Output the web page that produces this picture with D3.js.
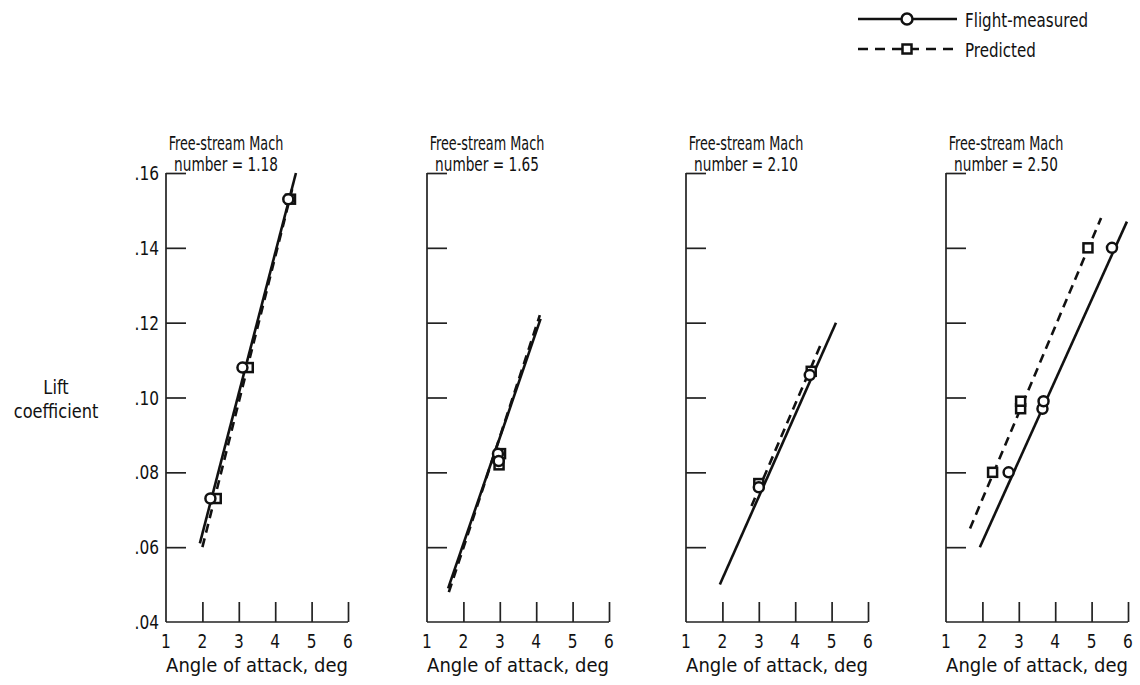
<!DOCTYPE html>
<html>
<head>
<meta charset="utf-8">
<script src="https://cdn.jsdelivr.net/npm/d3@7"></script>
<style>
  body { margin: 0; background: #fff; }
  svg text { font-family: "Liberation Sans Narrow", "DejaVu Sans Condensed", sans-serif; fill: #111; }
</style>
</head>
<body>
<svg id="chart" width="1140" height="685"></svg>
<script>
// panel titles (Mach numbers)
const machNumbers = ["1.18", "1.65", "2.10", "2.50"];
const xTicks = [1, 2, 3, 4, 5, 6];
const yTicks = [0.04, 0.06, 0.08, 0.10, 0.12, 0.14, 0.16];

// fairing lines: [alphaStart, clStart, alphaEnd, clEnd]
const measuredLines = [
  [1.93, 0.061, 4.57, 0.160],
  [1.58, 0.049, 4.12, 0.121],
  [1.93, 0.050, 5.12, 0.120],
  [1.93, 0.060, 5.97, 0.147]
];
const predictedLines = [
  [2.00, 0.060, 4.50, 0.157],
  [1.60, 0.048, 4.10, 0.122],
  [2.80, 0.071, 4.74, 0.115],
  [1.66, 0.065, 5.26, 0.148]
];

// data points [alpha, CL]
const measuredPoints = [
  [[2.22, 0.073], [3.10, 0.108], [4.36, 0.153]],
  [[2.95, 0.085], [2.97, 0.083]],
  [[3.00, 0.076], [4.40, 0.106]],
  [[2.72, 0.080], [3.65, 0.097], [3.68, 0.099], [5.56, 0.140]]
];
const predictedPoints = [
  [[2.38, 0.073], [3.26, 0.108], [4.42, 0.153]],
  [[3.02, 0.085], [2.98, 0.082]],
  [[3.00, 0.077], [4.44, 0.107]],
  [[2.28, 0.080], [3.05, 0.097], [3.05, 0.099], [4.90, 0.140]]
];

const svg = d3.select("#chart");
const panelX = [166, 427, 686, 946];
const panelW = 182;
const yTop = 173, yBottom = 622;

const y = d3.scaleLinear().domain([0.04, 0.16]).range([yBottom, yTop]);
const fmtY = v => d3.format(".2f")(v).replace(/^0/, "");

// text squeezed or stretched horizontally to mimic the lettering
function label(parent, x, yy, str, size, sx, anchor) {
  return parent.append("text")
    .attr("transform", `translate(${x},${yy}) scale(${sx},1)`)
    .attr("text-anchor", anchor || "middle")
    .attr("font-size", size).text(str);
}

machNumbers.forEach((mach, i) => {
  const x = d3.scaleLinear().domain([1, 6]).range([panelX[i], panelX[i] + panelW]);
  const g = svg.append("g");

  // axes drawn with inward ticks
  const yAxis = d3.axisRight(y).tickValues(yTicks.slice(1)).tickSize(20).tickFormat("");
  g.append("g").attr("transform", `translate(${panelX[i]},0)`).call(yAxis)
    .call(a => a.select(".domain").attr("d", `M0,${yTop}V${yBottom}`));
  const xAxis = d3.axisTop(x).tickValues(xTicks.slice(1)).tickSize(20).tickFormat("");
  g.append("g").attr("transform", `translate(0,${yBottom})`).call(xAxis)
    .call(a => a.select(".domain").attr("d", `M${panelX[i]},0H${panelX[i] + panelW}`));
  g.selectAll(".tick line, .domain").attr("stroke", "#222").attr("stroke-width", 1.7);

  // x tick labels
  xTicks.forEach(t => label(g, x(t), yBottom + 26, t, 19, 0.9));
  label(g, x(3.5), yBottom + 50, "Angle of attack, deg", 20, 1.0);

  // title
  const tx = panelX[i] + 60;
  label(g, tx, 150, "Free-stream Mach", 19, 0.75);
  label(g, tx, 171, "number = " + mach, 19, 0.8);

  // lines
  const m = measuredLines[i], p = predictedLines[i];
  g.append("line").attr("x1", x(m[0])).attr("y1", y(m[1])).attr("x2", x(m[2])).attr("y2", y(m[3]))
    .attr("stroke", "#111").attr("stroke-width", 2.6);
  g.append("line").attr("x1", x(p[0])).attr("y1", y(p[1])).attr("x2", x(p[2])).attr("y2", y(p[3]))
    .attr("stroke", "#111").attr("stroke-width", 2.6).attr("stroke-dasharray", "9,6");

  // markers
  g.selectAll(".sq").data(predictedPoints[i]).join("rect")
    .attr("x", d => x(d[0]) - 4.5).attr("y", d => y(d[1]) - 4.5)
    .attr("width", 9).attr("height", 9)
    .attr("fill", "#fff").attr("stroke", "#111").attr("stroke-width", 2.5);
  g.selectAll(".ci").data(measuredPoints[i]).join("circle")
    .attr("cx", d => x(d[0])).attr("cy", d => y(d[1])).attr("r", 5)
    .attr("fill", "#fff").attr("stroke", "#111").attr("stroke-width", 2.5);

  if (i === 0) {
    yTicks.forEach(t => label(g, panelX[i] - 7, y(t) + 7, fmtY(t), 19, 0.9, "end"));
  }
});

// y-axis title
label(svg, 56, 394, "Lift", 19, 0.95);
label(svg, 56, 418, "coefficient", 19, 0.95);

// legend
const legend = svg.append("g");
legend.append("line").attr("x1", 858).attr("x2", 957).attr("y1", 19).attr("y2", 19)
  .attr("stroke", "#111").attr("stroke-width", 2.6);
legend.append("circle").attr("cx", 907).attr("cy", 19).attr("r", 5.5)
  .attr("fill", "#fff").attr("stroke", "#111").attr("stroke-width", 2.5);
label(legend, 965, 27, "Flight-measured", 20, 0.84, "start");
legend.append("line").attr("x1", 858).attr("x2", 957).attr("y1", 49).attr("y2", 49)
  .attr("stroke", "#111").attr("stroke-width", 2.6).attr("stroke-dasharray", "10,7");
legend.append("rect").attr("x", 902.5).attr("y", 44.5).attr("width", 9).attr("height", 9)
  .attr("fill", "#fff").attr("stroke", "#111").attr("stroke-width", 2.5);
label(legend, 965, 57, "Predicted", 20, 0.84, "start");
</script>
</body>
</html>
